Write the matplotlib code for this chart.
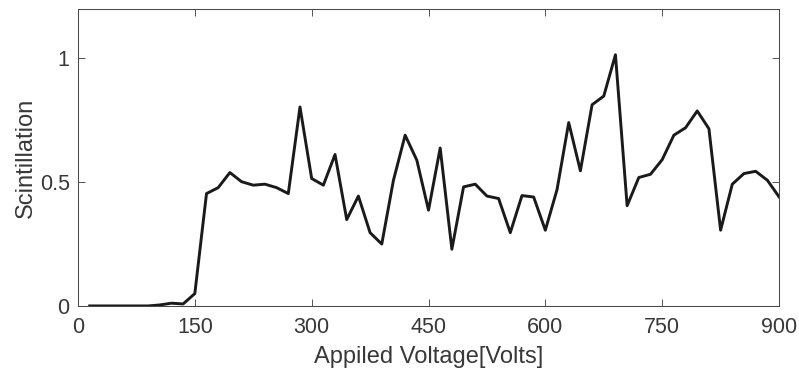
import matplotlib
matplotlib.use('Agg')
import matplotlib.pyplot as plt

plt.rcParams['font.family'] = 'Liberation Sans'

# applied voltage, steps of 15 V
voltage = [15, 30, 45, 60, 75, 90, 105, 120, 135, 150,
           165, 180, 195, 210, 225, 240, 255, 270, 285, 300,
           315, 330, 345, 360, 375, 390, 405, 420, 435, 450,
           465, 480, 495, 510, 525, 540, 555, 570, 585, 600,
           615, 630, 645, 660, 675, 690, 705, 720, 735, 750,
           765, 780, 795, 810, 825, 840, 855, 870, 885, 900]

scintillation = [0.0, 0.0, 0.0, 0.0, 0.0, 0.0, 0.004, 0.011, 0.008, 0.05,
                 0.454, 0.478, 0.539, 0.502, 0.488, 0.492, 0.478, 0.454, 0.804, 0.515,
                 0.488, 0.612, 0.349, 0.444, 0.296, 0.25, 0.508, 0.69, 0.589, 0.387,
                 0.638, 0.229, 0.481, 0.492, 0.444, 0.434, 0.296, 0.446, 0.44, 0.306,
                 0.47, 0.741, 0.546, 0.813, 0.848, 1.015, 0.405, 0.519, 0.532, 0.591,
                 0.69, 0.72, 0.788, 0.716, 0.306, 0.492, 0.535, 0.544, 0.508, 0.441]

xticks = [0, 150, 300, 450, 600, 750, 900]
yticks = [0, 0.5, 1]
yticklabels = ['0', '0.5', '1']

txt = '#383838'

fig = plt.figure(figsize=(7.99, 3.74), dpi=100)
ax = fig.add_axes([0.0976, 0.182, 0.8774, 0.794])

ax.plot(voltage, scintillation, color='#1a1a1a', linewidth=2.1)

ax.set_xlim(0, 900)
ax.set_ylim(0, 1.2)
ax.set_xticks(xticks)
ax.set_xticklabels([str(t) for t in xticks])
ax.set_yticks(yticks)
ax.set_yticklabels(yticklabels)

ax.tick_params(direction='in', length=5, width=0.6, top=True, right=True,
               labelsize=15.5, colors=txt)
ax.tick_params(axis='x', pad=8)
ax.tick_params(axis='y', pad=6)
for s in ax.spines.values():
    s.set_color('#4a4a4a')
    s.set_linewidth(0.75)

ax.set_xlabel('Appiled Voltage[Volts]', fontsize=17, color=txt, labelpad=6)
ax.set_ylabel('Scintillation', fontsize=17, color=txt, labelpad=2)

fig.savefig('out.png', dpi=100)
